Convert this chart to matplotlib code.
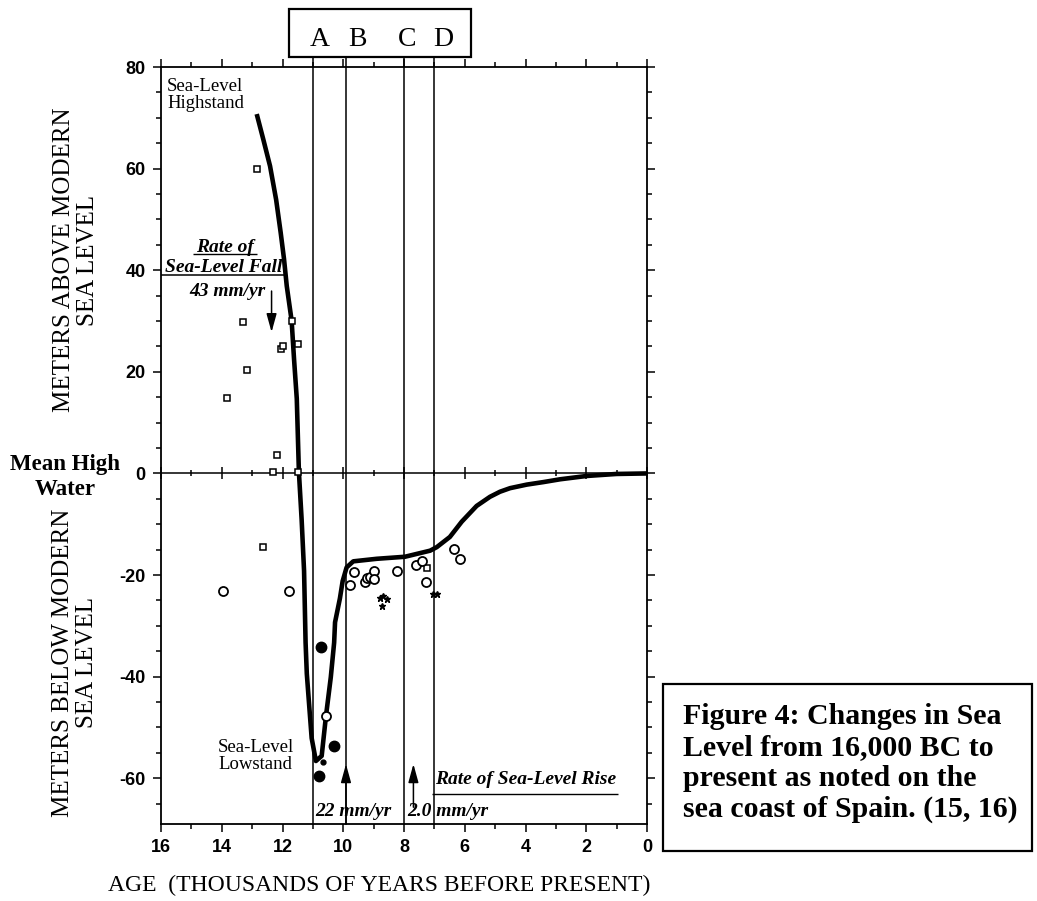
import matplotlib
matplotlib.use("Agg")
import matplotlib.pyplot as plt
from matplotlib.ticker import MultipleLocator
from matplotlib.patches import Rectangle
from matplotlib import font_manager

plt.rcParams["axes.unicode_minus"] = False

# sea level curve, age in thousands of years before present, metres
curve_age = [12.83, 12.63, 12.41, 12.21, 12.06, 11.95, 11.86, 11.70, 11.62, 11.53,
             11.46, 11.37, 11.29, 11.24, 11.20, 11.15, 11.04, 10.90, 10.71, 10.57,
             10.41, 10.30, 10.27, 10.11, 10.02, 9.89, 9.67, 8.90, 7.97, 7.14,
             6.92, 6.49, 6.10, 5.61, 5.17, 4.84, 4.51, 3.96, 3.41, 2.86, 1.99, 1.00, 0.0]
curve_level = [70.3, 65.7, 60.5, 53.9, 47.4, 42.2, 36.9, 30.1, 22.5, 14.7,
               0.3, -9.1, -19.2, -33.3, -39.4, -43.4, -52.1, -56.6, -55.6, -47.8,
               -40.1, -33.3, -29.3, -24.6, -21.2, -18.5, -17.3, -16.8, -16.4, -15.2,
               -14.5, -12.5, -9.5, -6.4, -4.6, -3.6, -2.9, -2.2, -1.7, -1.15, -0.5, -0.1, 0.0]

square_age = [12.85, 13.29, 11.70, 12.06, 11.97, 11.48, 13.18, 13.84, 12.19, 12.32, 11.48, 12.63, 7.25]
square_level = [60.0, 29.9, 30.0, 24.4, 25.0, 25.5, 20.4, 14.9, 3.6, 0.3, 0.2, -14.5, -18.6]

circle_age = [13.95, 11.78, 9.78, 9.65, 9.28, 9.21, 9.12, 8.99, 8.99, 8.24, 7.61, 7.42, 7.28, 6.34, 6.16, 10.57]
circle_level = [-23.2, -23.2, -21.9, -19.4, -21.3, -20.5, -20.4, -19.2, -20.7, -19.3, -18.1, -17.3, -21.3, -14.9, -16.8, -47.8]

dot_age = [10.74, 10.29, 10.80]
dot_level = [-34.1, -53.7, -59.5]
small_dot_age = [10.66]
small_dot_level = [-56.7]

star_age = [8.78, 8.68, 8.55, 8.73, 7.06, 6.90]
star_level = [-24.6, -24.2, -24.7, -26.1, -23.8, -23.8]

period_age = [11.0, 9.9, 8.0, 7.0]
period_names = ["A", "B", "C", "D"]

W, H = 1037, 901
serif = "Liberation Serif"
names = {f.name for f in font_manager.fontManager.ttflist}
tick_font = "Liberation Sans Narrow" if "Liberation Sans Narrow" in names else "Liberation Sans"


def fx(x):
    return x / W


def fy(y):
    return 1 - y / H


fig = plt.figure(figsize=(W / 100, H / 100), dpi=100)
ax = fig.add_axes([fx(161), fy(824), (647 - 161) / W, (824 - 67) / H])
ymin, ymax = -69, 80
ax.set_xlim(16, 0)
ax.set_ylim(ymin, ymax)

ax.xaxis.set_major_locator(MultipleLocator(2))
ax.xaxis.set_minor_locator(MultipleLocator(1))
ax.yaxis.set_major_locator(MultipleLocator(20))
ax.yaxis.set_minor_locator(MultipleLocator(5))
ax.tick_params(which="both", direction="out", top=True, right=True, width=1.1)
ax.tick_params(which="major", length=6, pad=5)
ax.tick_params(which="minor", length=3.5)
for lab in ax.get_xticklabels() + ax.get_yticklabels():
    lab.set_fontfamily(tick_font)
    lab.set_fontweight("bold")
    lab.set_fontsize(13)
for s in ax.spines.values():
    s.set_linewidth(1.3)

# zero line with its own ticks
sec = ax.secondary_xaxis((0 - ymin) / (ymax - ymin))
sec.xaxis.set_major_locator(MultipleLocator(2))
sec.xaxis.set_minor_locator(MultipleLocator(1))
sec.tick_params(which="both", direction="inout", labelbottom=False, labeltop=False, width=1.1)
sec.tick_params(which="major", length=8)
sec.tick_params(which="minor", length=5)
sec.spines["top"].set_linewidth(1.1)
sec.spines["bottom"].set_linewidth(1.1)

for a in period_age:
    ax.axvline(a, ymin=0, ymax=1.013, color="black", lw=1.1, clip_on=False)

ax.plot(curve_age, curve_level, color="black", lw=3.3, zorder=3, solid_joinstyle="round")
ax.plot(square_age, square_level, ls="none", marker="s", ms=5, mfc="white", mec="black", mew=1.1, zorder=4)
ax.plot(circle_age, circle_level, ls="none", marker="o", ms=6.5, mfc="white", mec="black", mew=1.3, zorder=4)
ax.plot(dot_age, dot_level, ls="none", marker="o", ms=7.5, color="black", zorder=4)
ax.plot(small_dot_age, small_dot_level, ls="none", marker="o", ms=3.5, color="black", zorder=4)
ax.plot(star_age, star_level, ls="none", marker="*", ms=5, color="black", zorder=4)

# arrows
arr = dict(arrowstyle="-|>,head_width=0.22,head_length=0.8", color="black", lw=1.1,
           mutation_scale=14, shrinkA=0, shrinkB=0)
ax.annotate("", xy=(12.36, 27.8), xytext=(12.36, 35.9), arrowprops=arr)
ax.annotate("", xy=(9.91, -57.2), xytext=(9.91, -69), arrowprops=arr)
ax.annotate("", xy=(7.69, -57.2), xytext=(7.69, -65.7), arrowprops=arr)

# underlines
ax.hlines(39.1, 16, 11.86, color="black", lw=1.1)
ax.hlines(43.1, 14.95, 12.85, color="black", lw=1.0)
ax.hlines(-63.0, 7.09, 0.94, color="black", lw=1.0)

bi = dict(family=serif, style="italic", weight="bold", fontsize=14)
fig.text(fx(225), fy(247), "Rate of", ha="center", va="center", **bi)
fig.text(fx(224), fy(268), "Sea-Level Fall", ha="center", va="center", **bi)
fig.text(fx(227), fy(292), "43 mm/yr", ha="center", va="center", **bi)
fig.text(fx(315), fy(812), "22 mm/yr", ha="left", va="center", **bi)
fig.text(fx(407), fy(812), "2.0 mm/yr", ha="left", va="center", **bi)
fig.text(fx(435), fy(780), "Rate of Sea-Level Rise", ha="left", va="center", **bi)

fig.text(fx(167), fy(95), "Sea-Level\nHighstand", ha="left", va="center",
         family=serif, fontsize=13.5, linespacing=1.05)
fig.text(fx(218), fy(756), "Sea-Level\nLowstand", ha="left", va="center",
         family=serif, fontsize=13.5, linespacing=1.05)

fig.text(fx(65), fy(477), "Mean High\nWater", ha="center", va="center", family=serif,
         weight="bold", fontsize=16.5, linespacing=1.3)
fig.text(fx(76), fy(260), "METERS ABOVE MODERN\nSEA LEVEL", ha="center", va="center",
         rotation=90, family=serif, fontsize=18, linespacing=1.1, multialignment="center")
fig.text(fx(75), fy(663), "METERS BELOW MODERN\nSEA LEVEL", ha="center", va="center",
         rotation=90, family=serif, fontsize=18, linespacing=1.1, multialignment="center")
fig.text(fx(379), fy(885), "AGE  (THOUSANDS OF YEARS BEFORE PRESENT)", ha="center", va="center",
         family=serif, fontsize=17)

# A B C D box
fig.patches.append(Rectangle((fx(289), fy(57)), (471 - 289) / W, (57 - 9) / H,
                             transform=fig.transFigure, fill=False, lw=1.6, ec="black"))
for name, px in zip(period_names, [320, 357, 407, 443]):
    fig.text(fx(px), fy(39), name, ha="center", va="center", family=serif, fontsize=20)

# caption box
fig.patches.append(Rectangle((fx(663), fy(851)), (1032 - 663) / W, (851 - 684) / H,
                             transform=fig.transFigure, fill=False, lw=1.6, ec="black"))
fig.text(fx(683), fy(703), "Figure 4: Changes in Sea\nLevel from 16,000 BC to\npresent as noted on the\nsea coast of Spain. (15, 16)",
         ha="left", va="top", family=serif, weight="bold", fontsize=21.5, linespacing=1.18)

fig.savefig("out.png", dpi=100)
